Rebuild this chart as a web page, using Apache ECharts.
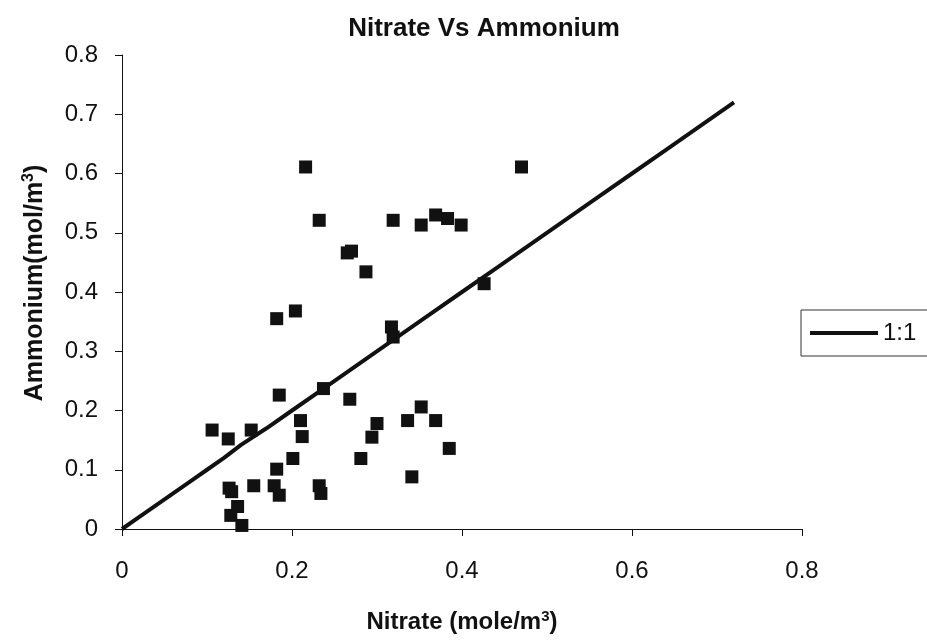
<!DOCTYPE html>
<html>
<head>
<meta charset="utf-8">
<script src="https://cdn.jsdelivr.net/npm/echarts@6/dist/echarts.min.js"></script>
<style>html,body{margin:0;padding:0;background:#fff}#c{width:927px;height:641px}</style>
</head>
<body>
<div id="c"></div>
<script>
var nitrate = [0.106,0.125,0.152,0.185,0.237,0.210,0.212,0.201,0.182,0.126,0.129,0.155,0.179,0.185,0.232,0.234,0.136,0.128,0.141,
  0.216,0.470,0.232,0.319,0.352,0.369,0.383,0.399,0.265,0.270,0.287,0.426,0.182,0.204,0.317,0.319,
  0.268,0.352,0.336,0.369,0.300,0.294,0.281,0.385,0.341];
var ammonium = [0.167,0.152,0.167,0.226,0.237,0.183,0.156,0.119,0.101,0.069,0.063,0.073,0.073,0.057,0.073,0.060,0.038,0.023,0.006,
  0.611,0.611,0.521,0.521,0.513,0.530,0.524,0.513,0.466,0.469,0.434,0.414,0.355,0.368,0.341,0.324,
  0.219,0.206,0.183,0.183,0.178,0.155,0.119,0.136,0.088];
var lineX = [0,0.02,0.05,0.08,0.10,0.12,0.14,0.17,0.20,0.24,0.28,0.32,0.36,0.40,0.44,0.48,0.52,0.56,0.60,0.64,0.68,0.72];
var lineY = [0,0.02,0.05,0.08,0.10,0.12,0.142,0.17,0.20,0.24,0.28,0.32,0.36,0.40,0.44,0.48,0.52,0.56,0.60,0.64,0.68,0.72];
var xTicks = [0,0.2,0.4,0.6,0.8];
var yTicks = [0,0.1,0.2,0.3,0.4,0.5,0.6,0.7,0.8];

var font = '"Liberation Sans", Arial, sans-serif';
var chart = echarts.init(document.getElementById('c'));
chart.setOption({
  animation: false,
  title: {
    text: 'Nitrate Vs Ammonium', left: 479, top: 11, textAlign: 'center',
    textStyle: {fontFamily: font, fontSize: 26, fontWeight: 'bold', color: '#111'}
  },
  grid: {left: 122, top: 55, width: 680, height: 474},
  legend: {
    left: 801, top: 310, data: ['1:1'],
    orient: 'vertical',
    borderColor: '#333', borderWidth: 1, padding: [11, 40, 11, 9],
    icon: 'rect', itemWidth: 68, itemHeight: 4,
    textStyle: {fontFamily: font, fontSize: 24, color: '#111'}
  },
  xAxis: {
    type: 'value', min: 0, max: 0.8, interval: 0.2,
    name: 'Nitrate (mole/m{sup|3})', nameLocation: 'middle', nameGap: 80,
    nameTextStyle: {fontFamily: font, fontSize: 24, fontWeight: 'bold', color: '#111',
      rich: {sup: {fontFamily: font, fontSize: 15, fontWeight: 'bold', verticalAlign: 'top', padding: [0,0,12,0], color: '#111'}}},
    axisLine: {lineStyle: {color: '#111', width: 1}},
    axisTick: {length: 7, lineStyle: {color: '#111'}},
    splitLine: {show: false},
    axisLabel: {margin: 30, fontFamily: font, fontSize: 24, color: '#111',
      formatter: function (v) { return xTicks.indexOf(+v.toFixed(1)) >= 0 ? String(+v.toFixed(1)) : ''; }}
  },
  yAxis: {
    type: 'value', min: 0, max: 0.8, interval: 0.1,
    name: 'Ammonium(mol/m{sup|3})', nameLocation: 'middle', nameGap: 73,
    nameTextStyle: {fontFamily: font, fontSize: 25, fontWeight: 'bold', color: '#111', padding: [0, 0, 0, 18],
      rich: {sup: {fontFamily: font, fontSize: 16, fontWeight: 'bold', verticalAlign: 'top', padding: [0,0,12,0], color: '#111'}}},
    axisLine: {show: true, lineStyle: {color: '#111', width: 1}},
    axisTick: {show: true, length: 7, lineStyle: {color: '#111'}},
    splitLine: {show: false},
    axisLabel: {margin: 24, fontFamily: font, fontSize: 24, color: '#111',
      formatter: function (v) { return yTicks.indexOf(+v.toFixed(1)) >= 0 ? String(+v.toFixed(1)) : ''; }}
  },
  series: [
    {
      name: 'data', type: 'scatter', symbol: 'rect', symbolSize: 13,
      itemStyle: {color: '#111', opacity: 1},
      data: nitrate.map(function (x, i) { return [x, ammonium[i]]; }),
      z: 3
    },
    {
      name: '1:1', type: 'line', showSymbol: false, symbol: 'none',
      lineStyle: {color: '#111', width: 4},
      itemStyle: {color: '#111'},
      data: lineX.map(function (x, i) { return [x, lineY[i]]; }),
      z: 2
    }
  ]
});
</script>
</body>
</html>
